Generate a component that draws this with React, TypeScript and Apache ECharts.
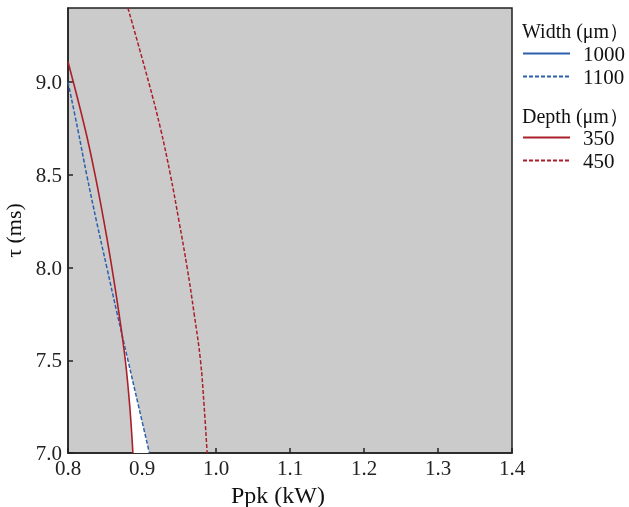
import React, { useEffect, useRef } from "react";
import * as echarts from "echarts";

// Tick labels
const xTicks = [0.8, 0.9, 1.0, 1.1, 1.2, 1.3, 1.4];
const yTicks = [7.0, 7.5, 8.0, 8.5, 9.0];

// Width 1000 µm (not visible in plotted range)
const width1000: [number, number][] = [];
// Width 1100 µm (dashed blue)
const width1100: [number, number][] = [
  [0.8, 9.0], [0.813, 8.75], [0.8253, 8.5], [0.8385, 8.25], [0.8525, 8.0],
  [0.8665, 7.75], [0.881, 7.5], [0.8955, 7.25], [0.91, 7.0],
];
// Depth 350 µm (solid red)
const depth350: [number, number][] = [
  [0.8, 9.11], [0.823, 8.75], [0.8366, 8.5], [0.8485, 8.25], [0.8593, 8.0],
  [0.869, 7.75], [0.8775, 7.5], [0.8835, 7.25], [0.8877, 7.0],
];
// Depth 450 µm (dashed red)
const depth450: [number, number][] = [
  [0.881, 9.4], [0.909, 9.0], [0.925, 8.75], [0.9384, 8.5], [0.95, 8.25],
  [0.961, 8.0], [0.9705, 7.75], [0.979, 7.5], [0.984, 7.25], [0.988, 7.0],
];
// Feasible (white) window between depth 350 and width 1100
const windowRegion: [number, number][] = [
  [0.8745, 7.611], [0.8775, 7.5], [0.8835, 7.25], [0.8877, 7.0],
  [0.91, 7.0], [0.8955, 7.25], [0.881, 7.5],
];

const FONT = "Liberation Serif";
const BLUE = "#2c60ad";
const RED = "#ab1f2a";

export default function App() {
  const ref = useRef<HTMLDivElement>(null);
  useEffect(() => {
    if (!ref.current) return;
    const chart = echarts.init(ref.current, null, { renderer: "svg" });
    const legendBase = {
      orient: "vertical", left: 522, padding: 0, itemWidth: 47, itemHeight: 14, itemGap: 2,
      itemStyle: { opacity: 0 },
      textStyle: { fontFamily: FONT, fontSize: 21, lineHeight: 20, color: "#111", padding: [0, 0, 0, 8] },
    };
    chart.setOption({
      animation: false,
      textStyle: { fontFamily: FONT },
      grid: {
        left: 68, right: 117, top: 8, bottom: 54,
        outerBoundsMode: "none", containLabel: false,
        show: true, backgroundColor: "#cbcbcb", borderColor: "#222", borderWidth: 1.5,
      },
      xAxis: {
        type: "value", min: xTicks[0], max: xTicks[xTicks.length - 1], interval: 0.1,
        name: "Ppk (kW)", nameLocation: "middle", nameGap: 26,
        nameTextStyle: { fontFamily: FONT, fontSize: 24, color: "#111", padding: [0, 24, 0, 0] },
        axisLine: { show: true, lineStyle: { color: "#222", width: 1.5 } },
        axisTick: { show: true, inside: true, length: 5, lineStyle: { color: "#222", width: 1.5 } },
        axisLabel: { fontFamily: FONT, fontSize: 21, color: "#222", margin: 4, formatter: (v: number) => v.toFixed(1) },
        splitLine: { show: false },
      },
      yAxis: {
        type: "value", min: yTicks[0], max: 9.4, interval: 0.5,
        name: "τ (ms)", nameLocation: "middle", nameGap: 26, nameRotate: 90,
        nameTextStyle: { fontFamily: FONT, fontSize: 22, color: "#111" },
        axisLine: { show: true, lineStyle: { color: "#222", width: 1.5 } },
        axisTick: { show: true, inside: true, length: 5, lineStyle: { color: "#222", width: 1.5 } },
        axisLabel: { fontFamily: FONT, fontSize: 21, color: "#222", margin: 6, showMaxLabel: false, formatter: (v: number) => v.toFixed(1) },
        splitLine: { show: false },
      },
      legend: [
        { ...legendBase, top: 43, data: ["1000", "1100"] },
        { ...legendBase, top: 127, data: ["350", "450"] },
      ],
      graphic: [
        { type: "text", left: 522, top: 21, style: { text: "Width (μm）", font: `20px ${FONT}`, fill: "#111" } },
        { type: "text", left: 522, top: 106, style: { text: "Depth (μm）", font: `20px ${FONT}`, fill: "#111" } },
      ],
      series: [
        {
          type: "custom", name: "window", silent: true, data: [0],
          renderItem: (_p: any, api: any) => ({
            type: "polygon",
            shape: { points: windowRegion.map((p) => api.coord(p)) },
            style: { fill: "#ffffff" },
          }),
          z: 1,
        },
        { type: "line", name: "1000", data: width1000, symbol: "none", smooth: 0.4, lineStyle: { color: BLUE, width: 1.5 }, itemStyle: { color: BLUE }, z: 3 },
        { type: "line", name: "1100", data: width1100, symbol: "none", smooth: 0.4, lineStyle: { color: BLUE, width: 1.5, type: [4, 2] }, itemStyle: { color: BLUE }, z: 3 },
        { type: "line", name: "350", data: depth350, symbol: "none", smooth: 0.4, lineStyle: { color: RED, width: 1.6 }, itemStyle: { color: RED }, z: 3 },
        { type: "line", name: "450", data: depth450, symbol: "none", smooth: 0.4, lineStyle: { color: RED, width: 1.5, type: [4, 2] }, itemStyle: { color: RED }, z: 3 },
      ],
    });
    return () => chart.dispose();
  }, []);
  return <div ref={ref} style={{ position: "fixed", left: 0, top: 0, width: 629, height: 507 }} />;
}
